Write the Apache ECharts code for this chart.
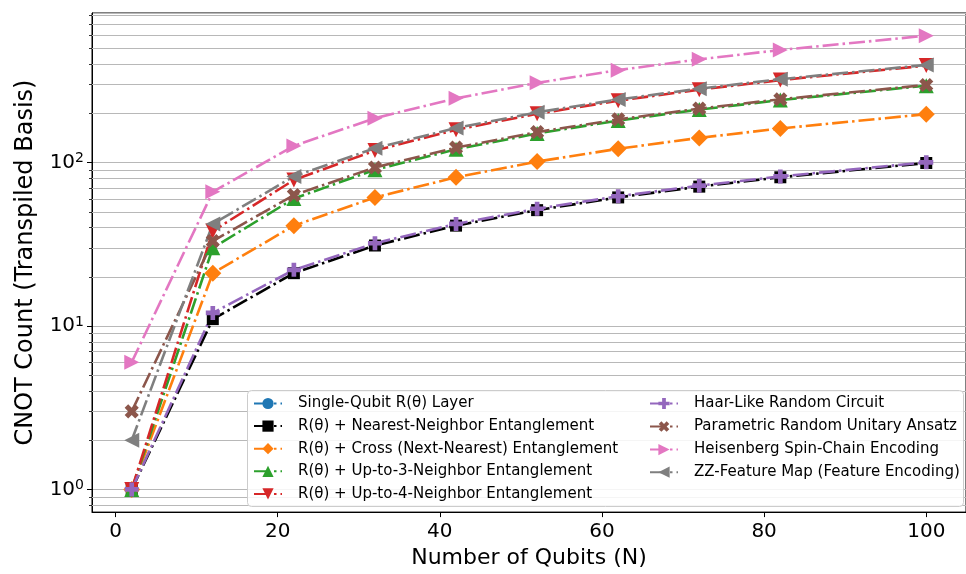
<!DOCTYPE html>
<html>
<head>
<meta charset="utf-8">
<script src="https://cdn.jsdelivr.net/npm/echarts@6/dist/echarts.min.js"></script>
<style>
  html, body { margin: 0; padding: 0; background: #fff; }
  #chart { width: 966px; height: 574px; }
</style>
</head>
<body>
<div id="chart"></div>
<script>
// Number of qubits evaluated
const qubits = [2, 12, 22, 32, 42, 52, 62, 72, 82, 100];

// Transpiled CNOT counts per ansatz
const singleQubitLayer = [0, 0, 0, 0, 0, 0, 0, 0, 0, 0];
const nearestNeighbor = [1, 11, 21, 31, 41, 51, 61, 71, 81, 99];
const crossNextNearest = [1, 21, 41, 61, 81, 101, 121, 141, 161, 197];
const upTo3Neighbor = [1, 30, 60, 90, 120, 150, 180, 210, 240, 294];
const upTo4Neighbor = [1, 38, 78, 118, 158, 198, 238, 278, 318, 390];
const haarLike = [1, 12, 22, 32, 42, 52, 62, 72, 82, 100];
const parametricRandom = [3, 33, 63, 93, 123, 153, 183, 213, 243, 297];
const heisenbergChain = [6, 66, 126, 186, 246, 306, 366, 426, 486, 594];
const zzFeatureMap = [2, 42, 82, 122, 162, 202, 242, 282, 322, 394];

// Series names as shown in the legend
const seriesNames = [
  'Single-Qubit R(θ) Layer',
  'R(θ) + Nearest-Neighbor Entanglement',
  'R(θ) + Cross (Next-Nearest) Entanglement',
  'R(θ) + Up-to-3-Neighbor Entanglement',
  'R(θ) + Up-to-4-Neighbor Entanglement',
  'Haar-Like Random Circuit',
  'Parametric Random Unitary Ansatz',
  'Heisenberg Spin-Chain Encoding',
  'ZZ-Feature Map (Feature Encoding)'
];

// Log-axis minor gridline values (2..9 per decade)
const minorValues = [0.8, 0.9, 2, 3, 4, 5, 6, 7, 8, 9, 20, 30, 40, 50, 60, 70, 80, 90, 200, 300, 400, 500, 600, 700, 800];

const X_MIN = -2.9, X_MAX = 104.9;
const Y_MIN = 0.727, Y_MAX = 818;

const PLUS = 'path://M4,0 H8 V4 H12 V8 H8 V12 H4 V8 H0 V4 H4 Z';

const styles = [
  { color: '#1f77b4', symbol: 'circle', size: 12, rotate: 0 },
  { color: '#000000', symbol: 'rect', size: 12, rotate: 0 },
  { color: '#ff7f0e', symbol: 'diamond', size: 17, rotate: 0 },
  { color: '#2ca02c', symbol: 'triangle', size: 15, rotate: 0 },
  { color: '#d62728', symbol: 'triangle', size: 15, rotate: 180 },
  { color: '#9467bd', symbol: PLUS, size: 14, rotate: 0 },
  { color: '#8c564b', symbol: PLUS, size: 15, rotate: 45 },
  { color: '#e377c2', symbol: 'triangle', size: 15, rotate: -90 },
  { color: '#7f7f7f', symbol: 'triangle', size: 15, rotate: 90 }
];

const valueSets = [
  singleQubitLayer, nearestNeighbor, crossNextNearest, upTo3Neighbor, upTo4Neighbor,
  haarLike, parametricRandom, heisenbergChain, zzFeatureMap
];

// Zero counts cannot be placed on a log axis, so they become gaps
const lineSeries = valueSets.map((vals, i) => ({
  name: seriesNames[i],
  type: 'line',
  data: qubits.map((q, j) => [q, vals[j] > 0 ? vals[j] : null]),
  symbol: styles[i].symbol,
  symbolSize: styles[i].size,
  symbolRotate: styles[i].rotate,
  showAllSymbol: true,
  lineStyle: { color: styles[i].color, width: 2.6, type: [16, 4, 2.5, 4] },
  itemStyle: { color: styles[i].color },
  emphasis: { disabled: true },
  clip: false,
  z: 3
}));

// Minor gridlines and minor ticks for the log y-axis
const minorSeries = {
  type: 'custom',
  silent: true,
  z: 1,
  data: minorValues.map(v => [X_MIN, v]),
  renderItem: function (params, api) {
    const p = api.coord([X_MIN, api.value(1)]);
    const cs = params.coordSys;
    const y = Math.round(p[1]) + 0.5;
    return {
      type: 'group',
      children: [
        { type: 'line', shape: { x1: cs.x, y1: y, x2: cs.x + cs.width, y2: y },
          style: { stroke: '#b8b8b8', lineWidth: 1 } },
        { type: 'line', shape: { x1: cs.x - 3, y1: y, x2: cs.x, y2: y },
          style: { stroke: '#000', lineWidth: 0.8 } }
      ]
    };
  }
};

const legendText = { color: '#000', fontSize: 15, fontFamily: 'DejaVu Sans', padding: [0, 0, 0, 11] };

const option = {
  animation: false,
  backgroundColor: '#fff',
  textStyle: { fontFamily: 'DejaVu Sans' },
  grid: {
    left: 92, top: 13, right: -9, bottom: 61,
    show: true, borderColor: '#000', borderWidth: 1
  },
  xAxis: {
    type: 'value',
    min: X_MIN, max: X_MAX,
    splitNumber: 5,
    name: 'Number of Qubits (N)',
    nameLocation: 'middle',
    nameGap: 34,
    nameTextStyle: { color: '#000', fontSize: 22, fontFamily: 'DejaVu Sans' },
    axisLine: { onZero: false, lineStyle: { color: '#000', width: 1 } },
    axisTick: { length: 5, lineStyle: { color: '#000' } },
    axisLabel: { color: '#000', fontSize: 20, margin: 10, showMinLabel: false, showMaxLabel: false },
    splitLine: { show: false }
  },
  yAxis: {
    type: 'log',
    logBase: 10,
    min: Y_MIN, max: Y_MAX,
    name: 'CNOT Count (Transpiled Basis)',
    nameLocation: 'middle',
    nameGap: 54,
    nameRotate: 90,
    nameTextStyle: { color: '#000', fontSize: 24, fontFamily: 'DejaVu Sans' },
    axisLine: { show: true, onZero: false, lineStyle: { color: '#000', width: 1 } },
    axisTick: { length: 5, lineStyle: { color: '#000' } },
    axisLabel: {
      color: '#000', margin: 8, showMinLabel: false, showMaxLabel: false,
      formatter: function (v) {
        const e = Math.log10(v);
        if (Math.abs(e - Math.round(e)) > 1e-6) return '';
        return '{b|10}{s|' + Math.round(e) + '}';
      },
      rich: {
        b: { fontSize: 20, color: '#000', fontFamily: 'DejaVu Sans' },
        s: { fontSize: 14, color: '#000', fontFamily: 'DejaVu Sans', verticalAlign: 'top', padding: [0, 0, 8, 0] }
      }
    },
    splitLine: { show: true, lineStyle: { color: '#b8b8b8', width: 1 } }
  },
  legend: [
    {
      data: seriesNames.slice(0, 5),
      orient: 'vertical', left: 248, top: 391,
      itemWidth: 28, itemHeight: 14, itemGap: 7.6,
      textStyle: legendText, z: 6, selectedMode: false
    },
    {
      data: seriesNames.slice(5),
      orient: 'vertical', left: 644, top: 391,
      itemWidth: 28, itemHeight: 14, itemGap: 7.6,
      textStyle: legendText, z: 6, selectedMode: false
    }
  ],
  graphic: [{
    type: 'rect', z: 5,
    shape: { x: 247.5, y: 390.5, width: 716, height: 116, r: 4 },
    style: { fill: 'rgba(255,255,255,0.85)', stroke: '#cccccc', lineWidth: 1 }
  }],
  series: [minorSeries].concat(lineSeries)
};

const chart = echarts.init(document.getElementById('chart'), null, { renderer: 'canvas' });
chart.setOption(option);
</script>
</body>
</html>
